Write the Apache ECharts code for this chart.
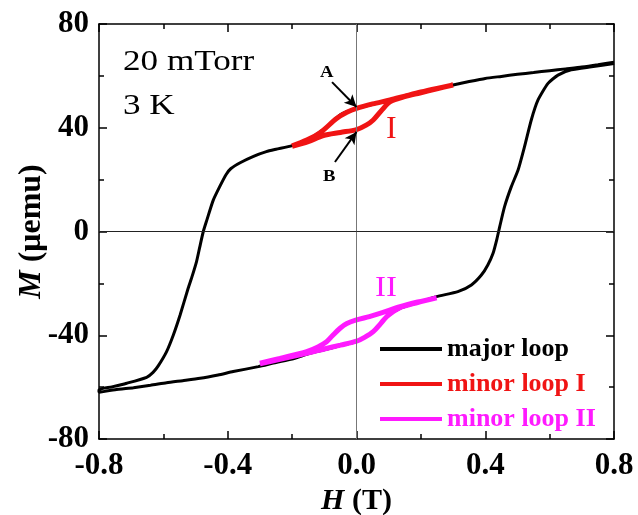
<!DOCTYPE html>
<html><head><meta charset="utf-8">
<script src="https://cdn.jsdelivr.net/npm/echarts@6/dist/echarts.min.js"></script>
<style>html,body{margin:0;padding:0;background:#fff}#c{width:638px;height:515px}</style>
</head><body><div id="c"></div>
<script>
// ---- data (H in T, M in μemu) ----
var majorH = [0.80,0.75,0.70,0.65,0.60,0.55,0.50,0.45,0.40,0.35,0.30,0.25,0.20,0.15,0.10,0.05,0.00,-0.05,-0.10,-0.15,-0.20,-0.25,-0.28,-0.32,-0.36,-0.39,-0.405,-0.425,-0.445,-0.465,-0.476,-0.487,-0.497,-0.510,-0.523,-0.548,-0.569,-0.590,-0.616,-0.632,-0.652,-0.714,-0.760,-0.800,
  -0.800,-0.750,-0.693,-0.640,-0.590,-0.540,-0.486,-0.430,-0.383,-0.305,-0.25,-0.20,-0.155,-0.10,-0.05,0.00,0.05,0.10,0.135,0.19,0.248,0.315,0.357,0.388,0.408,0.424,0.436,0.445,0.460,0.481,0.502,0.522,0.543,0.564,0.595,0.626,0.667,0.730,0.800];
var majorM = [65.3,64.3,63.4,62.7,62.0,61.3,60.6,59.8,59.0,57.8,56.5,55.0,53.4,52.0,50.6,49.0,47.5,45.0,39.5,35.5,33.1,31.7,30.8,29.0,26.6,24.3,22.0,17.3,12.1,4.4,0,-6,-11.6,-17,-21.9,-32.2,-39.9,-46.3,-51.8,-54.3,-56.2,-58.5,-59.9,-61.0,
  -62.0,-61.0,-60.2,-59.3,-58.3,-57.5,-56.6,-55.3,-54.0,-52.1,-50.5,-49.2,-47.3,-45.6,-44.0,-42.5,-38.8,-32.3,-29.6,-27.5,-25.1,-23.2,-20.6,-16.8,-12.9,-8.5,-3,1.9,9.6,17.3,23.7,32.7,43.0,50.7,57.1,60.3,62.3,63.5,64.8];
var minor1H = [-0.2,-0.15,-0.103,-0.05,0,0.03,0.052,0.08,0.104,0.15,0.197,0.25,0.30, 0.25,0.2,0.15,0.104,0.05,0,-0.03,-0.062,-0.103,-0.13,-0.155,-0.2];
var minor1M = [32.8,34.6,37.0,38.2,39.3,41,43,47,50.0,52.0,53.4,55.0,56.5, 55.2,53.8,52.2,50.7,49.2,47.5,46,43.6,39.1,36.8,35.3,33.0];
var minor2H = [-0.30,-0.238,-0.155,-0.10,-0.05,0,0.025,0.052,0.075,0.094,0.135,0.19,0.249, 0.19,0.135,0.08,0.04,0,-0.03,-0.051,-0.075,-0.093,-0.12,-0.155,-0.238,-0.30];
var minor2M = [-51.0,-49.3,-47.0,-45.3,-43.8,-42.3,-40.8,-38.6,-35.5,-32.8,-29.4,-27.4,-25.6, -27.2,-29.0,-31.3,-32.8,-34.1,-35.5,-37.3,-40.2,-42.5,-44.5,-46.3,-48.9,-50.8];
var seriesNames = ['major loop','minor loop I','minor loop II'];
var xTicks = {min:-0.8, max:0.8, interval:0.4};
var yTicks = {min:-80, max:80, interval:40};

function pairs(h, m){ return h.map(function(v,i){ return [v, m[i]]; }); }
var FONT = "'Liberation Serif','Times New Roman',serif";
var BLACK='#000', RED='#f01414', MAG='#ff1aff';

var chart = echarts.init(document.getElementById('c'), null, {renderer:'canvas'});
function axisCommon(extra){
  var a = {
    axisLine:{show:true, onZero:false, lineStyle:{color:'#000', width:1.5}},
    axisTick:{show:true, inside:true, length:8, lineStyle:{color:'#000', width:1.5}},
    minorTick:{show:true, splitNumber:2, length:5, lineStyle:{color:'#000', width:1.5}},
    splitLine:{show:false}, minorSplitLine:{show:false}
  };
  for (var k in extra) a[k]=extra[k];
  return a;
}
var option = {
  animation:false,
  backgroundColor:'#fff',
  grid:{left:99, right:24, top:24, bottom:76, containLabel:false, outerBoundsMode:'none'},
  xAxis:[
    axisCommon({type:'value', position:'bottom', min:xTicks.min, max:xTicks.max, interval:xTicks.interval,
      axisLabel:{show:true, margin:11, fontFamily:FONT, fontWeight:'bold', fontSize:31, color:'#000',
        formatter:function(v){return v.toFixed(1);}},
      name:'{i|H} (T)', nameLocation:'middle', nameGap:42,
      nameTextStyle:{fontFamily:FONT, fontWeight:'bold', fontSize:30, color:'#000',
        rich:{i:{fontFamily:FONT, fontWeight:'bold', fontStyle:'italic', fontSize:30, color:'#000'}}}}),
    axisCommon({type:'value', position:'top', min:xTicks.min, max:xTicks.max, interval:xTicks.interval,
      axisLabel:{show:false}})
  ],
  yAxis:[
    axisCommon({type:'value', position:'left', min:yTicks.min, max:yTicks.max, interval:yTicks.interval,
      axisLabel:{show:true, margin:10, fontFamily:FONT, fontWeight:'bold', fontSize:31, color:'#000'},
      name:'{i|M} (μemu)', nameLocation:'middle', nameGap:51, nameRotate:90, nameMoveOverlap:false,
      nameTextStyle:{fontFamily:FONT, fontWeight:'bold', fontSize:32, color:'#000',
        rich:{i:{fontFamily:FONT, fontWeight:'bold', fontStyle:'italic', fontSize:32, color:'#000'}}}}),
    axisCommon({type:'value', position:'right', min:yTicks.min, max:yTicks.max, interval:yTicks.interval,
      axisLabel:{show:false}})
  ],
  legend:{
    orient:'vertical', left:375, top:331, itemWidth:62, itemHeight:4, itemGap:9, icon:'rect',
    textStyle:{fontFamily:FONT, fontWeight:'bold', fontSize:26, lineHeight:24},
    data:[
      {name:seriesNames[0], textStyle:{color:BLACK}},
      {name:seriesNames[1], textStyle:{color:RED}},
      {name:seriesNames[2], textStyle:{color:MAG}}
    ]
  },
  series:[
    {name:seriesNames[0], type:'line', showSymbol:false, symbol:'none', smooth:0.2,
      data:pairs(majorH, majorM), color:BLACK, lineStyle:{color:BLACK, width:3},
      markLine:{silent:true, symbol:'none', animation:false, label:{show:false},
        data:[
          {xAxis:0, lineStyle:{color:'#777', width:1, type:'solid'}},
          {yAxis:0, lineStyle:{color:'#222', width:1, type:'solid'}}
        ]}},
    {name:seriesNames[1], type:'line', showSymbol:false, symbol:'none', smooth:0.3,
      data:pairs(minor1H, minor1M), color:RED, lineStyle:{color:RED, width:5},
      markLine:{silent:true, symbol:['none','arrow'], symbolSize:[9,12], animation:false, label:{show:false},
        lineStyle:{color:'#000', width:2, type:'solid'},
        data:[
          [{coord:[-0.076,57.6]},{coord:[0,48]}],
          [{coord:[-0.067,26.8]},{coord:[0,38.4]}]
        ]}},
    {name:seriesNames[2], type:'line', showSymbol:false, symbol:'none', smooth:0.3,
      data:pairs(minor2H, minor2M), color:MAG, lineStyle:{color:MAG, width:5}}
  ],
  graphic:[
    {type:'text', x:123, y:62, scaleX:1.17, style:{text:'20 mTorr', font:'30px '+FONT, fill:'#000', verticalAlign:'middle'}},
    {type:'text', x:123, y:106, scaleX:1.17, style:{text:'3 K', font:'30px '+FONT, fill:'#000', verticalAlign:'middle'}},
    {type:'text', x:320, y:73, scaleX:1.1, style:{text:'A', font:'bold 17px '+FONT, fill:'#000', verticalAlign:'middle'}},
    {type:'text', x:323, y:177, scaleX:1.1, style:{text:'B', font:'bold 17px '+FONT, fill:'#000', verticalAlign:'middle'}},
    {type:'text', x:386, y:130, style:{text:'I', font:'32px '+FONT, fill:RED, verticalAlign:'middle'}},
    {type:'text', x:375, y:288, scaleX:1.1, style:{text:'II', font:'30px '+FONT, fill:MAG, verticalAlign:'middle'}}
  ]
};
chart.setOption(option);
</script>
</body></html>
